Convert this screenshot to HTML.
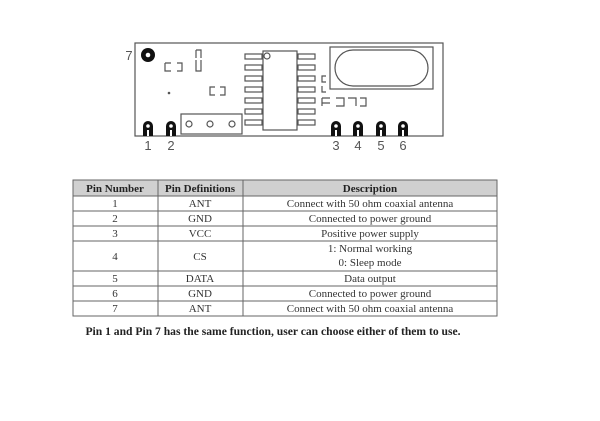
<html><body style="margin:0;background:#fff">
<svg width="600" height="421" xmlns="http://www.w3.org/2000/svg" style="position:absolute;left:0;top:0">
<g fill="none" stroke="#555" stroke-width="1.2">
<rect x="135" y="43" width="308" height="93"/>
<rect x="263" y="51" width="34" height="79" fill="#fff"/>
<circle cx="267" cy="56" r="3"/>
<g>
<rect x="245" y="54" width="17" height="5"/><rect x="245" y="65" width="17" height="5"/><rect x="245" y="76" width="17" height="5"/><rect x="245" y="87" width="17" height="5"/><rect x="245" y="98" width="17" height="5"/><rect x="245" y="109" width="17" height="5"/><rect x="245" y="120" width="17" height="5"/>
<rect x="298" y="54" width="17" height="5"/><rect x="298" y="65" width="17" height="5"/><rect x="298" y="76" width="17" height="5"/><rect x="298" y="87" width="17" height="5"/><rect x="298" y="98" width="17" height="5"/><rect x="298" y="109" width="17" height="5"/><rect x="298" y="120" width="17" height="5"/>
</g>
<rect x="330" y="47" width="103" height="42"/>
<rect x="335" y="50" width="93" height="36" rx="18"/>
<rect x="181" y="114" width="61" height="20"/>
<circle cx="189" cy="124" r="3"/><circle cx="210" cy="124" r="3"/><circle cx="232" cy="124" r="3"/>
<path d="M165 63v8h6M171 63h-6M177 63h5v8h-5M196 50v8M196 50h5v8M196 60v11h5v-11"/>
<path d="M215 87h-5v8h5M220 87h5v8h-5"/>
<path d="M326 76h-4v6h4M322 86v6h4M322 98h8M322 103h8M322 98v8M336 98h8v8h-8M348 98h8v8M360 98h6v8h-6"/>
</g>
<circle cx="169" cy="93" r="1.3" fill="#555"/>
<circle cx="148" cy="55" r="7" fill="#111"/><circle cx="148" cy="55" r="2.3" fill="#fff"/>
<g>
<g id="p"><path d="M143 136v-10a5 5 0 0 1 10 0v10z" fill="#111"/><circle cx="148" cy="126" r="1.8" fill="#fff"/><rect x="147" y="130" width="2" height="6" fill="#fff"/></g>
<use href="#p" x="23"/><use href="#p" x="188"/><use href="#p" x="210"/><use href="#p" x="233"/><use href="#p" x="255"/>
</g>
<g font-family="Liberation Sans, sans-serif" font-size="13" fill="#555" text-anchor="middle">
<text x="129" y="60">7</text><text x="148" y="150">1</text><text x="171" y="150">2</text>
<text x="336" y="150">3</text><text x="358" y="150">4</text><text x="381" y="150">5</text><text x="403" y="150">6</text>
</g>
<rect x="73" y="180" width="424" height="16" fill="#d0d0d0"/>
<g stroke="#666" stroke-width="1" fill="none">
<rect x="73" y="180" width="424" height="136"/>
<path d="M158 180v136M243 180v136M73 196h424M73 211h424M73 226h424M73 241h424M73 271h424M73 286h424M73 301h424"/>
</g>
<g font-family="Liberation Serif, serif" font-size="11" fill="#333" text-anchor="middle">
<g font-weight="bold" fill="#222"><text x="115" y="192">Pin Number</text><text x="200" y="192">Pin Definitions</text><text x="370" y="192">Description</text></g>
<text x="115" y="207">1</text><text x="200" y="207">ANT</text><text x="370" y="207">Connect with 50 ohm coaxial antenna</text>
<text x="115" y="222">2</text><text x="200" y="222">GND</text><text x="370" y="222">Connected to power ground</text>
<text x="115" y="237">3</text><text x="200" y="237">VCC</text><text x="370" y="237">Positive power supply</text>
<text x="115" y="260">4</text><text x="200" y="260">CS</text><text x="370" y="252">1: Normal working</text><text x="370" y="266">0: Sleep mode</text>
<text x="115" y="282">5</text><text x="200" y="282">DATA</text><text x="370" y="282">Data output</text>
<text x="115" y="297">6</text><text x="200" y="297">GND</text><text x="370" y="297">Connected to power ground</text>
<text x="115" y="312">7</text><text x="200" y="312">ANT</text><text x="370" y="312">Connect with 50 ohm coaxial antenna</text>
<text x="273" y="335" font-weight="bold" fill="#222" font-size="11.6">Pin 1 and Pin 7 has the same function, user can choose either of them to use.</text>
</g>
</svg>
</body></html>
